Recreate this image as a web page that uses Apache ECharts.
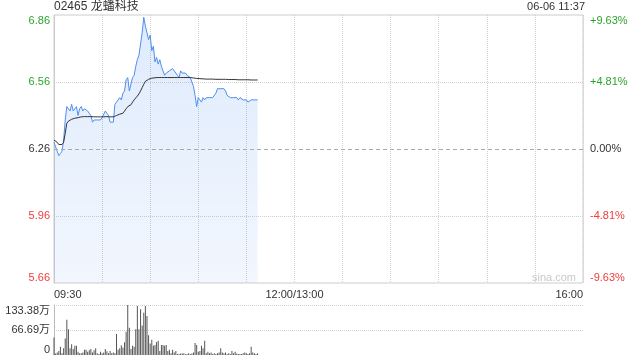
<!DOCTYPE html>
<html>
<head>
<meta charset="utf-8">
<script src="https://cdn.jsdelivr.net/npm/echarts@6/dist/echarts.min.js"></script>
<style>
html,body{margin:0;padding:0;background:#fff;}
#chart{width:640px;height:360px;}
</style>
</head>
<body>
<div id="chart"></div>
<script>
// ---- data ----
const titleText = '02465 龙蟠科技';
const stampText = '06-06 11:37';
const prevClose = 6.26;
const priceLabels = ['5.66', '5.96', '6.26', '6.56', '6.86'];
const pctLabels = ['-9.63%', '-4.81%', '0.00%', '+4.81%', '+9.63%'];
const volLabels = ['0', '66.69万', '133.38万'];
const timeLabels = ['09:30', '12:00/13:00', '16:00'];
const timeTickMinutes = [0, 150, 330];
const sessionMinutes = 330;

const prices = [
  6.29,6.27,6.25,6.23,6.24,6.25,6.30,6.39,6.45,6.45,
  6.43,6.46,6.43,6.44,6.45,6.41,6.44,6.45,6.43,6.44,
  6.44,6.43,6.43,6.41,6.38,6.39,6.39,6.39,6.39,6.39,
  6.40,6.40,6.43,6.42,6.41,6.38,6.38,6.38,6.46,6.47,
  6.47,6.49,6.48,6.51,6.52,6.57,6.58,6.52,6.55,6.58,
  6.59,6.63,6.66,6.68,6.73,6.78,6.85,6.81,6.78,6.75,
  6.77,6.70,6.72,6.65,6.67,6.64,6.66,6.63,6.61,6.59,
  6.60,6.60,6.61,6.61,6.62,6.62,6.60,6.59,6.58,6.61,
  6.60,6.60,6.60,6.59,6.59,6.58,6.58,6.54,6.50,6.45,
  6.49,6.48,6.47,6.49,6.48,6.49,6.49,6.49,6.49,6.49,
  6.49,6.51,6.53,6.53,6.53,6.53,6.53,6.52,6.50,6.50,
  6.49,6.49,6.49,6.49,6.49,6.48,6.49,6.49,6.48,6.48,
  6.48,6.47,6.47,6.48,6.48,6.48,6.48,6.48
];

const avgPrices = [
  6.300,6.295,6.290,6.280,6.280,6.280,6.290,6.330,6.375,6.385,
  6.390,6.393,6.396,6.398,6.400,6.400,6.402,6.404,6.405,6.405,
  6.405,6.405,6.405,6.405,6.404,6.404,6.404,6.404,6.404,6.404,
  6.404,6.404,6.405,6.405,6.405,6.404,6.404,6.404,6.406,6.410,
  6.413,6.416,6.418,6.420,6.430,6.440,6.450,6.455,6.458,6.470,
  6.480,6.487,6.497,6.507,6.520,6.535,6.550,6.563,6.568,6.572,
  6.575,6.577,6.578,6.579,6.580,6.580,6.580,6.580,6.580,6.580,
  6.580,6.580,6.580,6.580,6.580,6.580,6.580,6.580,6.580,6.580,
  6.580,6.580,6.580,6.580,6.580,6.580,6.579,6.578,6.577,6.576,
  6.575,6.575,6.574,6.574,6.574,6.573,6.573,6.573,6.573,6.573,
  6.572,6.572,6.572,6.572,6.572,6.572,6.572,6.572,6.571,6.571,
  6.571,6.571,6.571,6.571,6.570,6.570,6.570,6.570,6.570,6.570,
  6.570,6.570,6.569,6.569,6.569,6.569,6.569,6.569
];

// volume in 万
const volumes = [
  47,4,7,11,22,5,18,44,94,69,
  18,29,16,25,25,9,5,5,7,14,
  14,9,13,16,7,13,18,5,3,9,
  5,7,16,10,5,11,5,7,5,56,
  14,18,26,20,34,62,133.38,73,16,25,
  22,69,131,69,122,79,113,131,104,53,
  31,41,25,27,35,38,11,27,27,25,
  27,11,14,5,14,7,11,3,3,4,
  4,5,2,3,5,3,4,7,32,27,
  9,11,25,18,38,5,9,5,7,3,
  5,3,5,7,18,7,5,7,3,5,
  3,11,5,9,4,3,3,3,5,7,
  5,3,5,22,7,5,3,5
];

// ---- chart ----
const FONT = '"Liberation Sans", Arial, "Noto Sans CJK SC", sans-serif';
const GREEN = '#2aa52a';
const RED = '#f03c3c';
const labelColor = function (v) {
  const n = Number(v);
  if (n > 0) return GREEN;
  if (n < 0) return RED;
  return '#333';
};
const toOffset = p => Math.round((p - prevClose) * 100000) / 1000; // cents from previous close

const chart = echarts.init(document.getElementById('chart'), null, {renderer: 'canvas'});
const option = {
  animation: false,
  textStyle: {fontFamily: FONT},
  title: [
    {text: titleText, left: 54, top: 1, padding: 0,
      textStyle: {fontSize: 12, fontWeight: 'normal', color: '#333', fontFamily: FONT}},
    {text: stampText, right: 55, top: 1, padding: 0,
      textStyle: {fontSize: 11, fontWeight: 'normal', color: '#333', fontFamily: FONT}},
    {text: 'sina.com', left: 532, top: 272, padding: 0,
      textStyle: {fontSize: 11, fontWeight: 'normal', color: '#c8c8c8', fontFamily: FONT}}
  ],
  grid: [
    {left: 54, right: 57, top: 15, height: 268, show: true, borderColor: '#ccc', borderWidth: 1, backgroundColor: 'transparent'},
    {left: 54, right: 57, top: 305, height: 50}
  ],
  xAxis: [
    {type: 'value', gridIndex: 0, min: 0, max: sessionMinutes, interval: 30,
      axisLine: {show: false}, axisTick: {show: false},
      splitLine: {show: true, lineStyle: {color: '#d0d0d0', type: 'dotted', width: 1}},
      axisLabel: {show: true, margin: 6, fontSize: 11, color: '#333', fontFamily: FONT,
        showMinLabel: true, showMaxLabel: true,
        alignMinLabel: 'left', alignMaxLabel: 'right',
        formatter: function (v) {
          const k = timeTickMinutes.indexOf(Number(v));
          return k >= 0 ? timeLabels[k] : '';
        }}},
    {type: 'value', gridIndex: 1, min: 0, max: sessionMinutes,
      axisLine: {show: false}, axisTick: {show: false}, axisLabel: {show: false}, splitLine: {show: false}}
  ],
  yAxis: [
    {type: 'value', gridIndex: 0, min: -60, max: 60, interval: 30, position: 'left',
      axisLine: {show: true, lineStyle: {color: '#ccc'}}, axisTick: {show: false},
      splitLine: {show: true, lineStyle: {color: ['transparent', '#d0d0d0', 'transparent', '#d0d0d0', 'transparent'], type: 'dotted'}},
      axisLabel: {margin: 4, fontSize: 11, fontFamily: FONT,
        verticalAlignMinLabel: 'bottom', verticalAlignMaxLabel: 'top',
        color: labelColor,
        formatter: (v, i) => priceLabels[i]}},
    {type: 'value', gridIndex: 0, min: -60, max: 60, interval: 30, position: 'right',
      axisLine: {show: false}, axisTick: {show: false}, splitLine: {show: false},
      axisLabel: {margin: 7, fontSize: 11, fontFamily: FONT,
        verticalAlignMinLabel: 'bottom', verticalAlignMaxLabel: 'top',
        color: labelColor,
        formatter: (v, i) => pctLabels[i]}},
    {type: 'value', gridIndex: 1, min: 0, max: 133.38, interval: 66.69, position: 'left',
      axisLine: {show: true, lineStyle: {color: '#bbb'}}, axisTick: {show: false},
      splitLine: {show: true, lineStyle: {color: ['transparent', '#d0d0d0', '#d0d0d0'], type: 'dotted'}},
      axisLabel: {margin: 4, fontSize: 11, color: '#333', fontFamily: FONT,
        verticalAlignMinLabel: 'bottom', verticalAlignMaxLabel: 'top',
        formatter: (v, i) => volLabels[i]}}
  ],
  series: [
    {type: 'line', name: 'price', xAxisIndex: 0, yAxisIndex: 0,
      data: prices.map((p, i) => [i, toOffset(p)]),
      showSymbol: false, symbol: 'none',
      lineStyle: {color: '#4d8ef0', width: 1},
      areaStyle: {origin: 'start', color: {type: 'linear', x: 0, y: 0, x2: 0, y2: 1,
        colorStops: [{offset: 0, color: 'rgba(77,142,240,0.26)'}, {offset: 1, color: 'rgba(77,142,240,0.10)'}]}},
      markLine: {silent: true, symbol: 'none', label: {show: false},
        lineStyle: {color: '#aaa', type: [4, 3], width: 1},
        data: [{yAxis: 0}]},
      z: 3},
    {type: 'line', name: 'avg', xAxisIndex: 0, yAxisIndex: 0,
      data: avgPrices.map((p, i) => [i, toOffset(p)]),
      showSymbol: false, symbol: 'none',
      lineStyle: {color: '#333', width: 1}, z: 4},
    {type: 'bar', name: 'vol', xAxisIndex: 1, yAxisIndex: 2,
      data: volumes.map((v, i) => [i, v]),
      barWidth: 1, itemStyle: {color: '#555'}}
  ]
};
chart.setOption(option);
</script>
</body>
</html>
